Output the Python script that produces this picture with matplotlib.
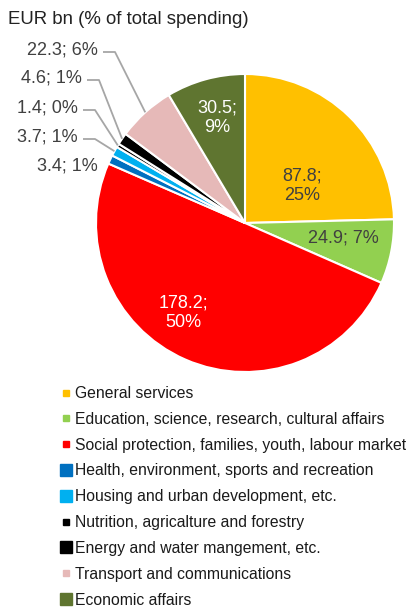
import matplotlib
matplotlib.use("Agg")
import matplotlib.pyplot as plt
import numpy as np
from matplotlib.lines import Line2D

plt.rcParams['font.family'] = ['Liberation Sans', 'DejaVu Sans']

categories = ["General services",
              "Education, science, research, cultural affairs",
              "Social protection, families, youth, labour market",
              "Health, environment, sports and recreation",
              "Housing and urban development, etc.",
              "Nutrition, agricalture and forestry",
              "Energy and water mangement, etc.",
              "Transport and communications",
              "Economic affairs"]
values = [87.8, 24.9, 178.2, 3.4, 3.7, 1.4, 4.6, 22.3, 30.5]
percents = [25, 7, 50, 1, 1, 0, 1, 6, 9]
colors = ["#FFC000", "#92D050", "#FF0000", "#0070C0", "#00B0F0",
          "#000000", "#000000", "#E6B9B8", "#5F7530"]

W, H = 414, 611
fig = plt.figure(figsize=(W / 100, H / 100), dpi=100)
ax = fig.add_axes([0, 0, 1, 1])

def py(y):
    return H - y

cx, cy, R = 245, py(223), 149
wedges, _ = ax.pie(values, colors=colors, startangle=90, counterclock=False,
                   center=(cx, cy), radius=R, frame=True,
                   wedgeprops=dict(edgecolor="white", linewidth=1.5))
ax.set_xlim(0, W)
ax.set_ylim(0, H)
ax.axis("off")

dark = "#404040"
fs = 13

# inner labels
inner = {0: ((302, 186), dark, "{v};\n{p}%"),
         1: ((343, 238), dark, "{v}; {p}%"),
         2: ((183, 313), "white", "{v};\n{p}%"),
         8: ((217, 118), "white", "{v};\n{p}%")}
for i, ((x, y), c, fmt) in inner.items():
    ax.text(x, py(y), fmt.format(v=values[i], p=percents[i]), color=c,
            fontsize=fs, ha="center", va="center", linespacing=1.2)

# outer labels with leader lines
outer = {7: (98, 50, True), 6: (82, 78, True), 5: (78, 108, True),
         4: (78, 137, True), 3: (98, 166, False)}
for i, (xr, y, line) in outer.items():
    ax.text(xr, py(y), f"{values[i]}; {percents[i]}%", color=dark,
            fontsize=fs, ha="right", va="center")
    if line:
        w = wedges[i]
        ang = np.deg2rad((w.theta1 + w.theta2) / 2)
        ex, ey = cx + R * np.cos(ang), cy + R * np.sin(ang)
        ax.plot([xr + 5, xr + 17, ex], [py(y + 2), py(y + 2), ey],
                color="#A6A6A6", lw=1.3, solid_capstyle="butt")

fig.text(8 / W, 1 - 19 / H, "EUR bn (% of total spending)", fontsize=13.4,
         color="#222222", ha="left", va="center")

# legend
msizes = [5, 5, 5, 8, 8, 5, 8, 5, 8]
handles = [Line2D([], [], marker="s", linestyle="none", markersize=ms,
                  markerfacecolor=c, markeredgecolor=c)
           for c, ms in zip(colors, msizes)]
leg = fig.legend(handles, categories, loc="upper left",
                 bbox_to_anchor=(62 / W, 1 - 386 / H), frameon=False,
                 fontsize=11.3, labelspacing=0.69, handlelength=0.55,
                 handletextpad=0.25, borderpad=0, borderaxespad=0,
                 labelcolor="#1a1a1a")

fig.savefig("out.png", dpi=100)
